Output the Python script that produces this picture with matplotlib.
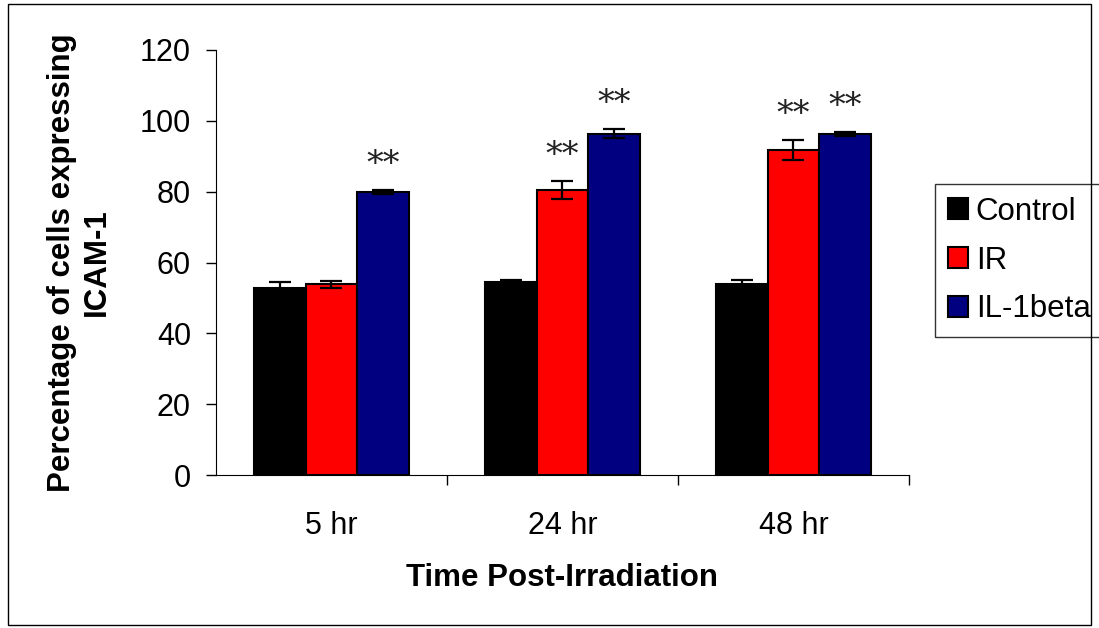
import matplotlib.pyplot as plt
import matplotlib.patches as patches
import numpy as np

plt.rcParams['font.family'] = ['Liberation Sans', 'DejaVu Sans']

# Données
temps = ["5 hr", "24 hr", "48 hr"]
control = [52.9, 54.6, 54.0]
control_err = [1.6, 0.5, 1.1]
ir = [53.9, 80.5, 91.7]
ir_err = [1.0, 2.6, 2.9]
il1beta = [79.9, 96.4, 96.3]
il1beta_err = [0.5, 1.2, 0.6]
# étoiles de significativité (série, groupe)
etoiles = [("IL-1beta", 0), ("IR", 1), ("IL-1beta", 1), ("IR", 2), ("IL-1beta", 2)]

fig = plt.figure(figsize=(10.99, 6.28), dpi=100)
ax = fig.add_axes([0.1965, 0.2436, 0.6306, 0.6768])

x = np.arange(len(temps))
w = 0.223
series = [
    ("Control", control, control_err, "#000000", -w),
    ("IR", ir, ir_err, "#FF0000", 0),
    ("IL-1beta", il1beta, il1beta_err, "#000080", w),
]
for nom, vals, errs, couleur, dx in series:
    ax.bar(x + dx, vals, w, color=couleur, edgecolor="black", linewidth=1.5,
           label=nom, zorder=2)
    ax.errorbar(x + dx, vals, yerr=errs, fmt="none", ecolor="black",
                elinewidth=1.6, capsize=8, capthick=1.6, zorder=3)

donnees = {nom: (vals, errs, dx) for nom, vals, errs, couleur, dx in series}
for nom, i in etoiles:
    vals, errs, dx = donnees[nom]
    ax.text(x[i] + dx, vals[i] + errs[i] + 2.5, "**", ha="center", va="bottom",
            fontsize=24, color="#222222", family="DejaVu Serif")

ax.set_xlim(-0.5, 2.5)
ax.set_ylim(0, 120)
ax.set_yticks(range(0, 121, 20))
ax.set_xticks(x)
ax.set_xticklabels(temps)
ax.set_xticks([0.5, 1.5, 2.5], minor=True)
ax.tick_params(axis="x", which="major", length=0, pad=26, labelsize=22)
ax.tick_params(axis="x", which="minor", length=7, width=1, direction="out")
ax.tick_params(axis="y", length=7, width=1, pad=11, labelsize=22)
ax.spines["top"].set_visible(False)
ax.spines["right"].set_visible(False)

ax.set_xlabel("Time Post-Irradiation", fontsize=22.5, fontweight="bold", labelpad=16)
ax.set_ylabel("Percentage of cells expressing\nICAM-1", fontsize=22.5,
              fontweight="bold", labelpad=20, linespacing=1.2)

leg = ax.legend(loc="center left", bbox_to_anchor=(0.851, 0.585),
                bbox_transform=fig.transFigure, fontsize=22.5, frameon=True,
                fancybox=False, edgecolor="black", handlelength=0.65,
                handleheight=0.65, handletextpad=0.25, labelspacing=0.6,
                borderpad=0.4, borderaxespad=0)
leg.get_frame().set_linewidth(1)

# cadre autour de la figure
fig.patches.append(patches.Rectangle((0.007, 0.005), 0.986, 0.988,
                                     transform=fig.transFigure, fill=False,
                                     edgecolor="black", linewidth=1))

plt.savefig("out.png", dpi=100)
